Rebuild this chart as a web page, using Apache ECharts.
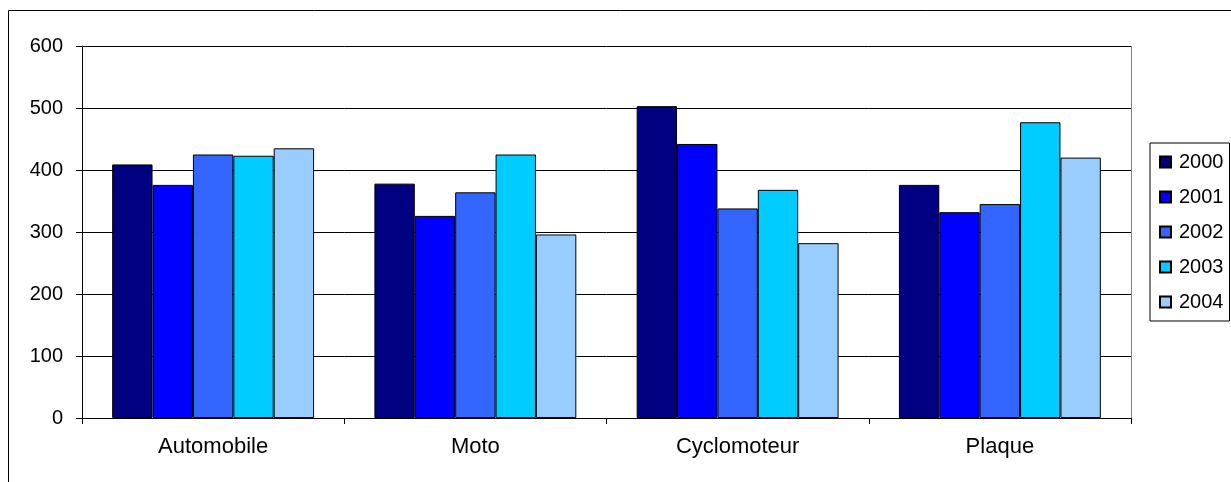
<!DOCTYPE html>
<html>
<head>
<meta charset="utf-8">
<script src="https://cdn.jsdelivr.net/npm/echarts@6/dist/echarts.min.js"></script>
<style>
html,body{margin:0;padding:0;background:#fff;}
#c{width:1231px;height:482px;}
</style>
</head>
<body>
<div id="c"></div>
<script>
var categories = ['Automobile', 'Moto', 'Cyclomoteur', 'Plaque'];
var years = ['2000', '2001', '2002', '2003', '2004'];
var v2000 = [409, 378, 503, 376];
var v2001 = [376, 326, 442, 332];
var v2002 = [425, 364, 338, 345];
var v2003 = [423, 425, 368, 477];
var v2004 = [435, 296, 282, 420];
var yTicks = [0, 100, 200, 300, 400, 500, 600];
var colors = ['#000080', '#0000FF', '#3366FF', '#00CCFF', '#99CCFF'];
var values = [v2000, v2001, v2002, v2003, v2004];

var FONT = '"Liberation Sans", Arial, sans-serif';
var chart = echarts.init(document.getElementById('c'));
var series = years.map(function (y, i) {
  return {
    name: y,
    type: 'bar',
    data: values[i],
    barGap: '0%',
    barCategoryGap: '23%',
    itemStyle: { color: colors[i], borderColor: '#000', borderWidth: 1 },
    emphasis: { disabled: true }
  };
});
chart.setOption({
  animation: false,
  textStyle: { fontFamily: FONT },
  grid: { left: 82, right: 100, top: 46, bottom: 64 },
  graphic: [
    { type: 'rect', shape: { x: 8.5, y: 10.5, width: 1400, height: 800 }, style: { fill: 'none', stroke: '#000', lineWidth: 1 }, silent: true, z: -10 },
    { type: 'line', shape: { x1: 1131.5, y1: 46, x2: 1131.5, y2: 418 }, style: { stroke: '#808080', lineWidth: 1 }, silent: true, z: 10 }
  ],
  legend: {
    orient: 'vertical',
    left: 1150,
    top: 143,
    data: years,
    icon: 'rect',
    itemWidth: 11,
    itemHeight: 11,
    itemGap: 15,
    padding: [9, 6, 9, 9],
    borderColor: '#000',
    borderWidth: 1,
    textStyle: { fontFamily: FONT, fontSize: 20, color: '#000', lineHeight: 20, padding: [0, 0, 0, 3] },
    selectedMode: false
  },
  xAxis: {
    type: 'category',
    data: categories,
    axisLine: { lineStyle: { color: '#000', width: 1 } },
    axisTick: { show: true, length: 6, lineStyle: { color: '#000' } },
    axisLabel: { fontFamily: FONT, fontSize: 22, color: '#000', margin: 18 },
    splitLine: { show: false }
  },
  yAxis: {
    type: 'value',
    min: yTicks[0],
    max: yTicks[yTicks.length - 1],
    interval: 100,
    axisLine: { show: true, lineStyle: { color: '#000', width: 1 } },
    axisTick: { show: true, length: 6, lineStyle: { color: '#000' } },
    axisLabel: { fontFamily: FONT, fontSize: 20, color: '#000', margin: 19 },
    splitLine: { show: true, lineStyle: { color: '#000', width: 1 } }
  },
  series: series
});
</script>
</body>
</html>
